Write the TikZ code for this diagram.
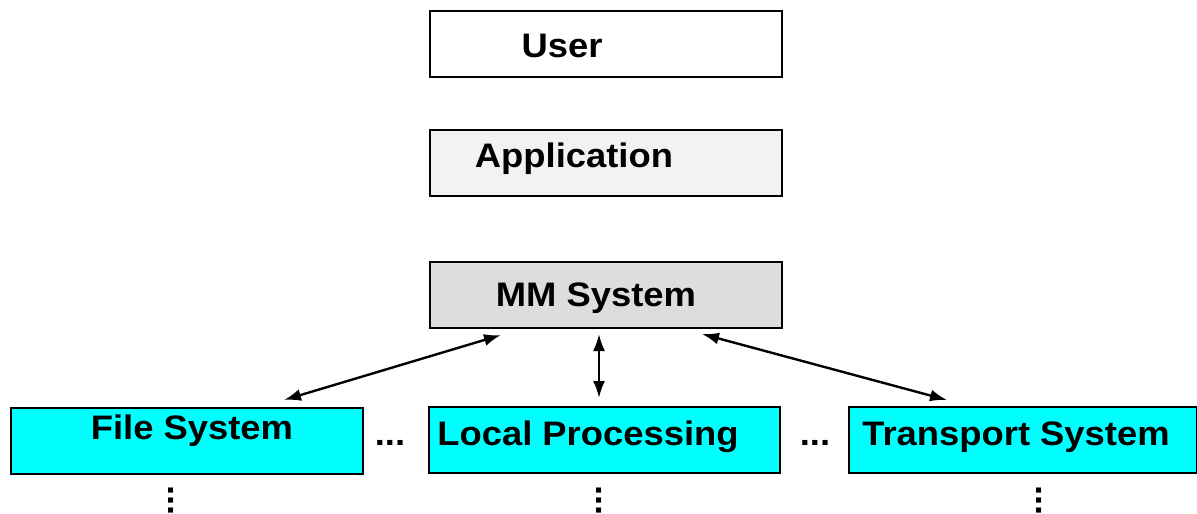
\documentclass[tikz,border=0pt]{standalone}
\usepackage{fontspec}
\newfontfamily\lab[FakeStretch=1.07]{Liberation Sans}
\usetikzlibrary{arrows.meta}
\definecolor{appfill}{RGB}{242,242,242}
\definecolor{mmfill}{RGB}{221,221,221}
\definecolor{cyanfill}{RGB}{0,255,255}
\tikzset{
  box/.style={draw=black, line width=2pt, minimum width=#1, minimum height=66pt, inner sep=0pt},
  box/.default=352pt,
  txt/.style={font=\lab\bfseries\fontsize{34}{40}\selectfont, inner sep=0pt, anchor=base},
  link/.style={line width=2.4pt, {Latex[length=17pt,width=12pt]}-{Latex[length=17pt,width=12pt]}},
}
\begin{document}
\begin{tikzpicture}[x=1pt,y=-1pt]
\useasboundingbox (0,0) rectangle (1197,514);
% boxes
\node[box, fill=white, anchor=north west] (user) at (429,10) {};
\node[box, fill=appfill, anchor=north west] (app) at (429,129) {};
\node[box, fill=mmfill, anchor=north west] (mm) at (429,261) {};
\node[box=352pt, fill=cyanfill, anchor=north west] (fs) at (10,407) {};
\node[box=351pt, fill=cyanfill, anchor=north west] (lp) at (428,406) {};
\node[box=348pt, fill=cyanfill, anchor=north west] (ts) at (848,406) {};
% labels
\node[txt] (tuser) at (562,57) {User};
\node[txt] (tapp) at (574,167) {Application};
\node[txt] (tmm) at (596,306) {MM System};
\node[txt] (tfs) at (192,439) {File System};
\node[txt] (tlp) at (588,445) {Local Processing};
\node[txt] (tts) at (1016,445) {Transport System};
\node[txt] (dots1) at (390,445) {...};
\node[txt] (dots2) at (815,445) {...};
\node[txt, rotate=-90, anchor=base west] (vd1) at (168,485) {...};
\node[txt, rotate=-90, anchor=base west] (vd2) at (596,485) {...};
\node[txt, rotate=-90, anchor=base west] (vd3) at (1036,485) {...};
% connectors
\draw[link] ([shift={(-105,6)}]mm.south) -- ([shift={(97,-7)}]fs.north);
\draw[link] ([shift={(-7,5)}]mm.south) -- ([shift={(-5.5,-8)}]lp.north);
\draw[link] ([shift={(96,5)}]mm.south) -- ([shift={(-76,-6)}]ts.north);
\end{tikzpicture}
\end{document}
